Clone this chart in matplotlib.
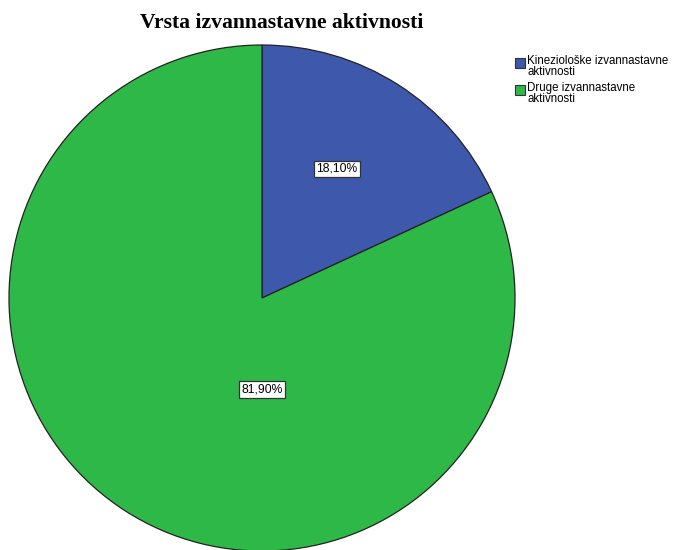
import matplotlib
matplotlib.use("Agg")
import matplotlib.pyplot as plt
from matplotlib.patches import Rectangle

title = "Vrsta izvannastavne aktivnosti"
categories = ["Kineziološke izvannastavne\naktivnosti", "Druge izvannastavne\naktivnosti"]
values = [18.10, 81.90]
colors = ["#3e58ac", "#2eb848"]

fig = plt.figure(figsize=(6.77, 5.5), dpi=100)
ax = fig.add_axes([9/677, -1/550, 506/677, 506/550])
wedges, texts, autotexts = ax.pie(
    values, colors=colors, startangle=90, counterclock=False,
    autopct=lambda p: f"{p:.2f}%".replace(".", ","), pctdistance=0.6,
    wedgeprops=dict(edgecolor="#222222", linewidth=0.9),
    textprops=dict(family="Liberation Sans", fontsize=8.7, color="black"),
)
for t in autotexts:
    t.set_bbox(dict(boxstyle="square,pad=0.2", facecolor="white", edgecolor="#333333", linewidth=0.9))
# label positions as in the reference
autotexts[0].set_position((0.296, 0.51))
autotexts[1].set_position((0.0, -0.362))
ax.set_xlim(-1, 1)
ax.set_ylim(-1, 1)
ax.set_aspect("equal")
ax.axis("off")

fig.text(282/677, 1 - 23/550, title, ha="center", va="center",
         family="Liberation Serif", fontweight="bold", fontsize=15.6)

# legend
ys = [63, 90]
for y, lab, c in zip(ys, categories, colors):
    fig.patches.append(Rectangle((515/677, 1 - (y + 5)/550), 10/677, 10/550,
                                 transform=fig.transFigure, facecolor=c,
                                 edgecolor="#333333", linewidth=0.8))
    fig.text(527/677, 1 - (y - 8)/550, lab, ha="left", va="top",
             family="Liberation Sans", fontsize=8.3, linespacing=0.85)

fig.savefig("out.png", dpi=100)
